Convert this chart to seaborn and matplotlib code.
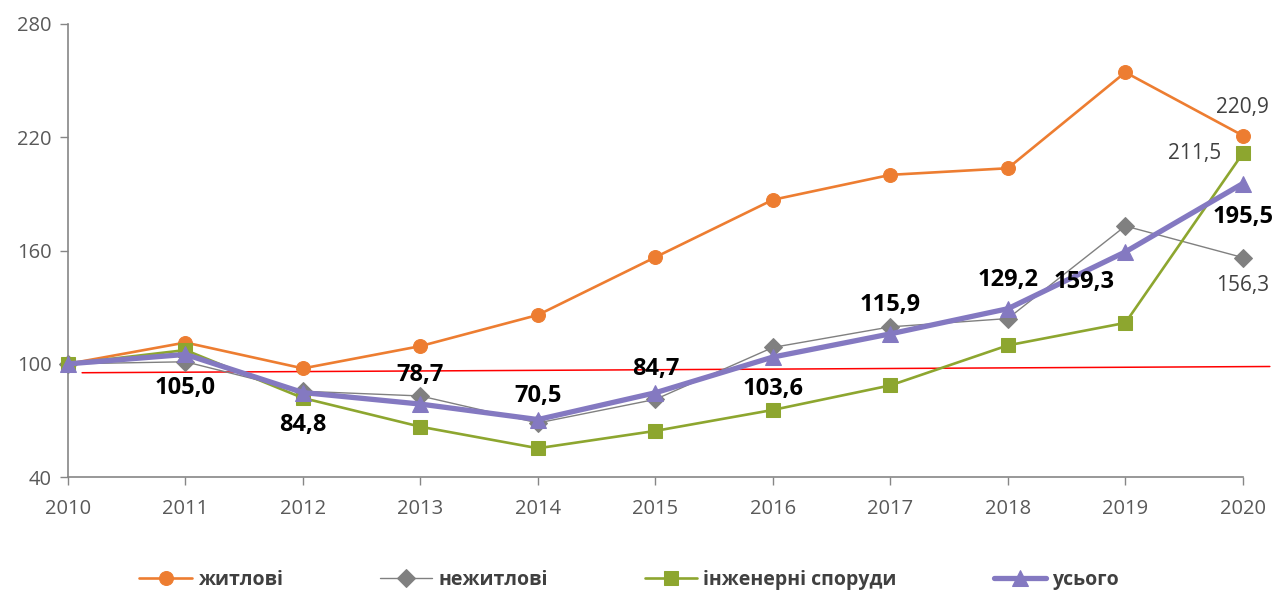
"""Індекси будівництва за типами споруд, 2010-2020."""

import matplotlib.pyplot as plt
import pandas as pd
import seaborn as sns

years = [2010, 2011, 2012, 2013, 2014, 2015, 2016, 2017, 2018, 2019, 2020]

residential = [100, 111.3, 97.6, 109.4, 125.9, 156.5, 186.9, 200.1, 203.6, 254.4, 220.9]
nonresidential = [100, 101.1, 85.5, 83.0, 68.7, 81.2, 108.7, 119.6, 124.0, 173.0, 156.3]
engineering = [100, 107.3, 81.9, 66.7, 55.3, 64.5, 75.6, 88.6, 109.8, 121.7, 211.5]
total = [100, 105.0, 84.8, 78.7, 70.5, 84.7, 103.6, 115.9, 129.2, 159.3, 195.5]

# red reference line (drawn shape in the source)
ref_x = [2010.12, 2020.23]
ref_y = [95.3, 98.6]

series_names = ["житлові", "нежитлові", "інженерні споруди", "усього"]
y_ticks = [40, 100, 160, 220, 280]

# bold labels on "усього": offsets in points (dx, dy)
total_label_offsets = {
    2011: (0, -24), 2012: (0, -23), 2013: (0, 21), 2014: (0, 17),
    2015: (0, 17), 2016: (0, -23), 2017: (0, 21), 2018: (0, 21),
    2019: (-30, -22), 2020: (0, -24),
}

df = pd.DataFrame({
    "year": years,
    "residential": residential,
    "nonresidential": nonresidential,
    "engineering": engineering,
    "total": total,
})

sns.set_theme(style="white")
plt.rcParams["font.family"] = ["Open Sans", "DejaVu Sans"]

fig, ax = plt.subplots(figsize=(12.76, 5.92), dpi=100)
fig.subplots_adjust(left=0.0533, right=0.974, top=0.9595, bottom=0.194)

ax.plot(ref_x, ref_y, color="#FF0000", linewidth=1.1, clip_on=False, zorder=1.5)

styles = [
    ("residential", "#ED7D31", "o", 1.9, 10),
    ("nonresidential", "#808080", "D", 1.0, 9),
    ("engineering", "#8DA62F", "s", 1.9, 10),
    ("total", "#8479C1", "^", 3.8, 11),
]
for (col, color, marker, lw, ms), name in zip(styles, series_names):
    sns.lineplot(
        data=df, x="year", y=col, ax=ax, color=color, marker=marker,
        linewidth=lw, markersize=ms, markeredgecolor=color, label=name,
        clip_on=False, zorder=2 + (col == "total"),
    )

label_font = dict(fontsize=17, fontweight="bold", color="black", ha="center", va="center")
for yr, val in zip(years[1:], total[1:]):
    dx, dy = total_label_offsets[yr]
    ax.annotate(f"{val:.1f}".replace(".", ","), (yr, val), xytext=(dx, dy),
                textcoords="offset points", **label_font)

end_font = dict(fontsize=15, color="#404040", ha="center", va="center")
ax.annotate(f"{residential[-1]:.1f}".replace(".", ","), (years[-1], residential[-1]),
            xytext=(0, 20), textcoords="offset points", **end_font)
ax.annotate(f"{engineering[-1]:.1f}".replace(".", ","), (years[-1], engineering[-1]),
            xytext=(-35, 0), textcoords="offset points", **end_font)
ax.annotate(f"{nonresidential[-1]:.1f}".replace(".", ","), (years[-1], nonresidential[-1]),
            xytext=(0, -20), textcoords="offset points", **end_font)

ax.set_xlim(years[0], years[-1])
ax.set_ylim(y_ticks[0], y_ticks[-1])
ax.set_xticks(years)
ax.set_yticks(y_ticks)
ax.set_xlabel("")
ax.set_ylabel("")
ax.tick_params(axis="both", labelsize=14.5, labelcolor="#595959", color="#868686",
               length=6, width=1, direction="out")
ax.tick_params(axis="x", pad=10)
ax.tick_params(axis="y", pad=6)
ax.xaxis.set_ticks_position("bottom")
ax.yaxis.set_ticks_position("left")
for side in ["top", "right"]:
    ax.spines[side].set_visible(False)
for side in ["left", "bottom"]:
    ax.spines[side].set_color("#868686")
    ax.spines[side].set_linewidth(1.2)

leg = ax.legend(loc="center", bbox_to_anchor=(0.493, 0.02), bbox_transform=fig.transFigure,
                ncol=4, frameon=False, handlelength=2.7, columnspacing=5.0,
                handletextpad=0.3, prop={"weight": "bold", "size": 14})
for t in leg.get_texts():
    t.set_color("#404040")

fig.savefig("out.png", dpi=100)
